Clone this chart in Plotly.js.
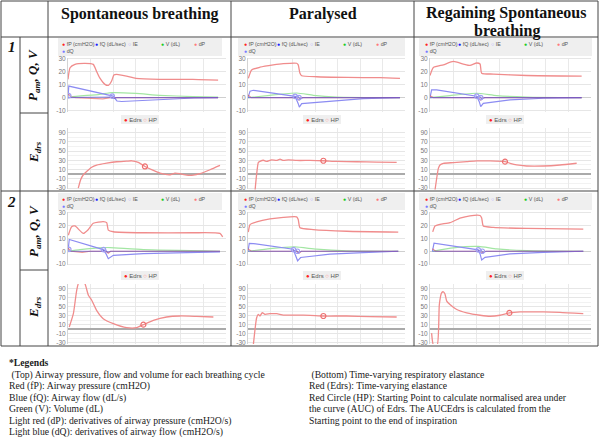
<!DOCTYPE html>
<html><head><meta charset="utf-8">
<script src="https://cdn.plot.ly/plotly-3.0.1.min.js"></script>
<style>html,body{margin:0;padding:0;background:#fff;}#chart{width:600px;height:444px;}</style>
</head><body><div id="chart"></div>
<script>
// ---------- DATA (time in % of breath window, value) ----------
const columnTitles = ["Spontaneous breathing", "Paralysed", "Regaining Spontaneous", "breathing"];
const patientLabels = ["1", "2"];
const pressTicks = [-10, 0, 10, 20, 30];
const edrsTicks = [-30, -10, 10, 30, 50, 70, 90];
const pressLegendItems = ["fP (cmH2O)", "fQ (dL/sec)", "IE", "V (dL)", "dP", "dQ"];
const edrsLegendItems = ["Edrs", "HP"];

// Patient 1 - spontaneous breathing
const sb1_fP = [[0,14.2],[1.3,23.2],[4.4,25.8],[10.8,26.6],[16,25.8],[18,20.6],[20,15.5],[23.4,10.3],[25.5,9.5],[27.6,12.9],[29,17.5],[30.8,18],[37,16.7],[43,15],[58,14.2],[79,14.2],[95,13.6]];
const sb1_fQ = [[0,0],[0.5,9],[28.5,1.2],[31,-2.6],[34,-3],[58,-1.3],[80,-0.3],[95,0]];
const sb1_V = [[0,0],[2,0.5],[20,2.6],[28,3.9],[43,3.3],[58,1.8],[79,0.8],[95,0.5]];
const sb1_dP = [[0,3.1],[2,0.5],[5,0],[15,-0.5],[22,-1],[27,0],[95,0]];
const sb1_dQ = [[0,0],[27,0.5],[29,-0.5],[31,0],[95,0]];
const sb1_IE = [[0.5,1.5],[28,1.2]];
const sb1_Edrs = [[6.5,-30.3],[8,-12],[9.7,-1.3],[11.8,5.8],[15,15],[18.1,19.5],[24.5,23.8],[30.8,26.8],[37.1,28],[40.3,28.9],[44.5,25.3],[48.7,16.6],[54,8],[58.2,2.2],[64.6,-1.3],[67.7,2.2],[70.9,0.9],[75.1,-2.1],[79.3,-2.1],[83.5,0.9],[89.9,9.5],[96.2,18.8]];
const sb1_HP = [[48.7,16.6]];

// Patient 1 - paralysed
const pa1_fP = [[0.2,15],[2.3,21.5],[7.6,23.6],[16.1,25.4],[22.5,26.4],[31,26.7],[32,25.4],[33.1,18.9],[34.2,17],[43.7,16.2],[62.9,15.7],[84,15.5],[96.8,15]];
const pa1_fQ = [[0,0],[1.3,5],[3.4,5.7],[30,1],[32,-4.7],[32.7,-7.4],[34.2,-4.7],[52.2,-2.7],[73.4,-0.8],[96.8,0]];
const pa1_V = [[0,0],[14,1.8],[31,3.6],[41.6,1.8],[56.5,0.5],[96.8,0]];
const pa1_dP = [[0,2],[2,0],[31,0],[32.5,-2],[34,0],[96.8,0]];
const pa1_dQ = [[0,0],[30,0],[31.5,1.5],[33,-1],[35,0],[96.8,0]];
const pa1_IE = [[30,1],[32.5,0]];
const pa1_Edrs = [[4.5,-35],[5.5,0],[6.6,25.3],[7.6,27.5],[9.8,30],[11.9,27.5],[15,31],[18.2,29.6],[20.4,32.4],[22.5,29.6],[25.7,31],[31,29.6],[39.5,29.6],[48,29],[56.5,27.5],[69.2,26.8],[81.9,26],[94.7,25.3]];
const pa1_HP = [[48,29]];

// Patient 1 - regaining spontaneous breathing
const rs1_fP = [[0,17.2],[2.1,23.4],[8.3,25.5],[14.5,28.1],[20.7,26.1],[24.8,25],[29,26.9],[31.1,26.1],[32.1,19],[39.3,18.3],[60,17.2],[94.2,16.7]];
const rs1_fQ = [[0,0],[1,6],[4.1,6],[29,1.1],[30.6,-3.1],[31.5,-7],[33.1,-4.4],[49.7,-1.8],[70.4,-0.5],[94.2,0]];
const rs1_V = [[0,0],[12.4,1.6],[29,3.4],[41.4,1.6],[60,0.5],[94.2,0]];
const rs1_dP = [[0,1.5],[2,0],[30,0],[31.5,-2],[33,0],[94.2,0]];
const rs1_dQ = [[0,0],[29,0],[30.5,1.5],[32,-1],[34,0],[94.2,0]];
const rs1_IE = [[29,1.2],[31.5,0]];
const rs1_Edrs = [[3.1,-35],[5.2,12.5],[6.2,19.8],[8.3,23.5],[14.5,24.9],[22.8,27],[29,28.6],[37.3,28.6],[46.6,27],[49.7,23.5],[53.8,19.8],[60,17.6],[70.4,17.6],[80.7,19.8],[91.1,23.5]];
const rs1_HP = [[46.6,27]];

// Patient 2 - spontaneous breathing
const sb2_fP = [[0.2,12.6],[2.3,19.2],[4.4,19.8],[9.7,14],[12.9,17.1],[16,21.9],[22.3,23.2],[24.5,22.4],[25.5,16.6],[28.7,15.3],[47.7,14.5],[79.3,14.5],[96.2,14],[97.9,11.3]];
const sb2_fQ = [[0,0],[0.8,9.2],[22.3,1.3],[24,-1.8],[25.5,-5.8],[28.7,-3.2],[47.7,-1.8],[96.2,-0.5]];
const sb2_V = [[0,0],[7.6,1.3],[22.3,2.9],[26.6,2.9],[47.7,1.3],[96.2,0]];
const sb2_dP = [[0,2.5],[2,0],[9,-0.8],[14,0],[24,0],[25.5,-1.5],[27,0],[96.2,0]];
const sb2_dQ = [[0,0],[22,0],[23.5,1.2],[25,-0.8],[27,0],[96.2,0]];
const sb2_IE = [[0.5,1.5],[22.5,1.3]];
const sb2_Edrs = [[0.8,4.4],[3.4,34],[5.5,86],[7,105],[9.5,105],[10.8,100],[12.9,75],[15,64],[18.1,41.5],[22.3,23],[28.7,12],[37.1,3.1],[43.5,3.1],[47.7,9.7],[54,19.3],[62.4,26.7],[70.9,29],[81.4,28],[92,26.7]];
const sb2_HP = [[47.7,9.7]];

// Patient 2 - paralysed
const pa2_fP = [[0.2,15],[1.3,20.9],[5.5,23],[14,25.3],[22.5,26.6],[31,26.9],[32,24.8],[33.1,18.4],[41.6,17],[62.9,15.7],[95.7,15]];
const pa2_fQ = [[0,0],[0.8,6.2],[3.4,6],[28.9,1.6],[30,-2.3],[31.6,-7.5],[33.5,-4.9],[52.2,-2.3],[73.4,-1],[95.7,0]];
const pa2_V = [[0,0],[14,2.1],[30,3.4],[43.7,1.6],[62.9,0.3],[95.7,0]];
const pa2_dP = [[0,2],[2,0],[31,0],[32.5,-1.5],[34,0],[95.7,0]];
const pa2_dQ = [[0,0],[29,0],[30.5,1.2],[32,-1],[34,0],[95.7,0]];
const pa2_IE = [[29,1.3],[31.5,0]];
const pa2_Edrs = [[3.4,-35],[5.5,25],[6.6,32.6],[7.6,29],[9.1,36.3],[10.8,32.6],[14,34],[18.3,34],[22.5,31],[31,31],[39.5,30.4],[48,28.9],[62.9,28.9],[77.7,27.4],[94.7,26.7]];
const pa2_HP = [[48,28.9]];

// Patient 2 - regaining spontaneous breathing
const rs2_fP = [[1.7,15.2],[3.1,19.8],[6.2,21.1],[12.4,22.4],[18.6,25.9],[24.8,27.8],[31.1,28],[32.1,26],[33.1,19.8],[39.3,18.7],[60,17.9],[95.2,17.4]];
const rs2_fQ = [[1.5,0],[2.5,6.4],[30,1.1],[31.1,-2.1],[32.1,-6.9],[34.2,-4.8],[49.7,-2.1],[70.4,-0.8],[95.2,0]];
const rs2_V = [[1.5,0],[14.5,2.7],[30,3.8],[41.4,1.9],[60,0.5],[95.2,0]];
const rs2_dP = [[1.5,2],[3.5,0],[31,0],[32.5,-1.5],[34,0],[95.2,0]];
const rs2_dQ = [[1.5,0],[30,0],[31.5,1.2],[33,-1],[35,0],[95.2,0]];
const rs2_IE = [[30,1.1],[32.5,0]];
const rs2_Edrs = [[1,-9],[2.1,-35],[4.5,-35],[5.8,54.5],[7.2,80.4],[8.3,82.7],[9.3,78],[10.4,62],[12.4,54.5],[16.6,43.3],[22.8,35.8],[31.1,30.6],[37.3,28.4],[43.5,30.6],[49.3,35.8],[55.9,38],[70.4,38],[80.7,37.2],[95.2,34.4]];
const rs2_HP = [[49.3,35.8]];

const legendLeft = ["*Legends", " (Top) Airway pressure, flow and volume for each breathing cycle", "Red (fP): Airway pressure (cmH2O)", "Blue (fQ): Airway flow (dL/s)", "Green (V): Volume (dL)", "Light red (dP): derivatives of airway pressure (cmH2O/s)", "Light blue (dQ): derivatives of airway flow (cmH2O/s)"];
const legendRight = [" (Bottom) Time-varying respiratory elastance", "Red (Edrs): Time-varying elastance", "Red Circle (HP): Starting Point to calculate normalised area under", "the curve (AUC) of Edrs. The AUCEdrs is calculated from the", "Starting point to the end of inspiration"];

// ---------- BUILD ----------
const cells = [
  [{fP:sb1_fP,fQ:sb1_fQ,V:sb1_V,dP:sb1_dP,dQ:sb1_dQ,IE:sb1_IE,Edrs:sb1_Edrs,HP:sb1_HP},
   {fP:pa1_fP,fQ:pa1_fQ,V:pa1_V,dP:pa1_dP,dQ:pa1_dQ,IE:pa1_IE,Edrs:pa1_Edrs,HP:pa1_HP},
   {fP:rs1_fP,fQ:rs1_fQ,V:rs1_V,dP:rs1_dP,dQ:rs1_dQ,IE:rs1_IE,Edrs:rs1_Edrs,HP:rs1_HP}],
  [{fP:sb2_fP,fQ:sb2_fQ,V:sb2_V,dP:sb2_dP,dQ:sb2_dQ,IE:sb2_IE,Edrs:sb2_Edrs,HP:sb2_HP},
   {fP:pa2_fP,fQ:pa2_fQ,V:pa2_V,dP:pa2_dP,dQ:pa2_dQ,IE:pa2_IE,Edrs:pa2_Edrs,HP:pa2_HP},
   {fP:rs2_fP,fQ:rs2_fQ,V:rs2_V,dP:rs2_dP,dQ:rs2_dQ,IE:rs2_IE,Edrs:rs2_Edrs,HP:rs2_HP}]
];

const W = 600, H = 444;
const toX = x => x / W, toY = y => 1 - y / H;
const colX = [[68,226],[248,405],[430,591]];
const pressY = [[57.7,111.8],[211.7,265.3]];
const edrsY = [[127.9,189.4],[284,343.9]];
const PR = [-11, 31], ER = [-33, 100];

const traces = [], shapes = [], annotations = [];
const layout = {width:W, height:H, autosize:false, margin:{l:0,r:0,t:0,b:0}, paper_bgcolor:'#fff', plot_bgcolor:'#fff', showlegend:false};
const tickFont = {size:6.5, color:'#777', family:'Liberation Sans, Arial, sans-serif'};

function axes(n, xd, yd, range, isEdrs){
  const xs = n===1 ? 'xaxis' : 'xaxis'+n, ys = n===1 ? 'yaxis' : 'yaxis'+n;
  layout[xs] = {domain:[toX(xd[0]),toX(xd[1])], range:[0,100], anchor:'y'+(n===1?'':n), showticklabels:false, ticks:'', showgrid:true, gridcolor:'#e9e9e9', tick0:0, dtick:100/7, zeroline:false, showline:false, fixedrange:true};
  const ticks = isEdrs ? edrsTicks : pressTicks;
  layout[ys] = {domain:[toY(yd[1]),toY(yd[0])], range:range, anchor:'x'+(n===1?'':n), tickmode:'array', tickvals:ticks, ticktext:ticks.map(v => String(v)), tickfont:tickFont, ticks:'', showgrid:true, gridcolor:'#e6e6e6', zeroline:true, zerolinecolor: isEdrs?'#aaaaaa':'#cfcfcf', zerolinewidth: isEdrs?2:1, showline:true, linecolor:'#d4d4d4', linewidth:1, fixedrange:true};
  if (isEdrs) layout[ys].minor = {tickmode:'linear', dtick:10, tick0:0, showgrid:true, gridcolor:'#f2f2f2'};
}
function line(pairs, n, color, width, shape){
  return {type:'scatter', mode:'lines', x:pairs.map(p=>p[0]), y:pairs.map(p=>p[1]), xaxis:'x'+(n===1?'':n), yaxis:'y'+(n===1?'':n), line:{color:color, width:width, shape:shape||'linear', smoothing:0.5}, hoverinfo:'skip'};
}
function marks(pairs, n, color, size){
  return {type:'scatter', mode:'markers', x:pairs.map(p=>p[0]), y:pairs.map(p=>p[1]), xaxis:'x'+(n===1?'':n), yaxis:'y'+(n===1?'':n), marker:{symbol:'circle-open', color:color, size:size, line:{width:1.2, color:color}}, hoverinfo:'skip'};
}

const pressBoxX = [[58,222],[238,405],[419,592]];
const pressBoxY = [[38,56],[193,210]];
const itemStart = [60.5, 243, 423.6];
const edrsLegCX = [140, 322, 505];
const edrsLegY = [119.5, 275.5];
const dot = c => '<span style="color:'+c+'">●</span>';
const ring = c => '<span style="color:'+c+'">○</span>';
const legFont = {size:5.3, color:'#555', family:'Liberation Sans, Arial, sans-serif'};

let n = 0;
for (let r = 0; r < 2; r++) {
  for (let c = 0; c < 3; c++) {
    const d = cells[r][c];
    n++;
    axes(n, colX[c], pressY[r], PR, false);
    traces.push(line(d.V, n, '#a3e6a3', 1.2, 'spline'));
    traces.push(line(d.fQ, n, '#8c8cf2', 1.2));
    traces.push(line(d.dP, n, 'rgba(225,80,80,0.6)', 1.2));
    traces.push(line(d.dQ, n, 'rgba(80,80,225,0.6)', 1.2));
    traces.push(line(d.fP, n, '#f08c8c', 1.3, 'spline'));
    traces.push(marks(d.IE, n, '#a0a0f5', 4.5));
    n++;
    axes(n, colX[c], edrsY[r], ER, true);
    traces.push(line(d.Edrs, n, '#f08c8c', 1.3, 'spline'));
    traces.push(marks(d.HP, n, '#ee7070', 5));

    const bx = pressBoxX[c], by = pressBoxY[r];
    shapes.push({type:'rect', xref:'paper', yref:'paper', x0:toX(bx[0]), x1:toX(bx[1]), y0:toY(by[1]), y1:toY(by[0]), fillcolor:'#efefef', line:{width:0}, layer:'below'});
    const markers = [dot('#ff2020'), dot('#2020ff'), ring('#9a9aff'), dot('#22cc22'), dot('#ff7a7a'), dot('#7a7aff')];
    for (let i = 0; i < 6; i++) {
      const xi = i < 5 ? itemStart[c] + i*33 : itemStart[c];
      const yi = i < 5 ? by[0] + 6 : by[0] + 13;
      annotations.push({xref:'paper', yref:'paper', x:toX(xi), y:toY(yi), xanchor:'left', yanchor:'middle', showarrow:false, text:markers[i]+' '+pressLegendItems[i], font:legFont, borderpad:0});
    }
    const cx = edrsLegCX[c], cy = edrsLegY[r];
    shapes.push({type:'rect', xref:'paper', yref:'paper', x0:toX(cx-19), x1:toX(cx+19), y0:toY(cy+4.5), y1:toY(cy-4.5), fillcolor:'#efefef', line:{width:0}, layer:'below'});
    annotations.push({xref:'paper', yref:'paper', x:toX(cx), y:toY(cy), xanchor:'center', yanchor:'middle', showarrow:false, text:dot('#ff2020')+' '+edrsLegendItems[0]+' '+ring('#ff8080')+' '+edrsLegendItems[1], font:{size:6, color:'#555', family:'Liberation Sans, Arial, sans-serif'}, borderpad:0});
  }
}

// table lines
const lc = '#444';
function hl(y, x0, x1){ shapes.push({type:'line', xref:'paper', yref:'paper', x0:toX(x0), x1:toX(x1), y0:toY(y), y1:toY(y), line:{color:lc, width:1}}); }
function vl(x, y0, y1){ shapes.push({type:'line', xref:'paper', yref:'paper', x0:toX(x), x1:toX(x), y0:toY(y0), y1:toY(y1), line:{color:lc, width:1}}); }
hl(1, 1, 598); hl(37, 1, 598); hl(191, 1, 598); hl(346, 1, 598);
hl(113, 20, 48); hl(270, 20, 48);
vl(1, 1, 346); vl(20, 37, 346); vl(48, 1, 346); vl(231, 1, 346); vl(414, 1, 346); vl(598, 1, 346);

// headers
const serif = 'Liberation Serif, Times New Roman, serif';
const hdr = (t, x, y) => annotations.push({xref:'paper', yref:'paper', x:toX(x), y:toY(y), xanchor:'center', yanchor:'middle', showarrow:false, text:'<b>'+t+'</b>', font:{family:serif, size:16, color:'#111'}});
hdr(columnTitles[0], 139.5, 14);
hdr(columnTitles[1], 322.5, 14);
hdr(columnTitles[2], 506.5, 13);
hdr(columnTitles[3], 506.5, 31);

// row labels
const rowNumY = [47, 202];
const pamY = [75, 231];
const edrsLabY = [152, 307];
for (let r = 0; r < 2; r++) {
  annotations.push({xref:'paper', yref:'paper', x:toX(11.5), y:toY(rowNumY[r]), xanchor:'center', yanchor:'middle', showarrow:false, text:'<b><i>'+patientLabels[r]+'</i></b>', font:{family:serif, size:15, color:'#111'}});
  annotations.push({xref:'paper', yref:'paper', x:toX(34), y:toY(pamY[r]), xanchor:'center', yanchor:'middle', showarrow:false, textangle:-90, text:'<b><i>P<sub>am</sub>, Q, V</i></b>', font:{family:serif, size:13, color:'#111'}});
  annotations.push({xref:'paper', yref:'paper', x:toX(34), y:toY(edrsLabY[r]), xanchor:'center', yanchor:'middle', showarrow:false, textangle:-90, text:'<b><i>E<sub>drs</sub></i></b>', font:{family:serif, size:13, color:'#111'}});
}

// bottom legend text
const lineY = [362, 374.5, 386, 397.5, 409, 420.5, 432];
legendLeft.forEach((t, i) => {
  annotations.push({xref:'paper', yref:'paper', x:toX(7), y:toY(lineY[i]), xanchor:'left', yanchor:'middle', showarrow:false, text: i===0 ? '<b>'+t+'</b>' : t, font:{family:serif, size:9.7, color:'#1a1a1a'}});
});
legendRight.forEach((t, i) => {
  annotations.push({xref:'paper', yref:'paper', x:toX(307), y:toY(lineY[i+1]), xanchor:'left', yanchor:'middle', showarrow:false, text:t, font:{family:serif, size:9.7, color:'#1a1a1a'}});
});

layout.shapes = shapes;
layout.annotations = annotations;
Plotly.newPlot('chart', traces, layout, {staticPlot:true, displayModeBar:false});
</script></body></html>
